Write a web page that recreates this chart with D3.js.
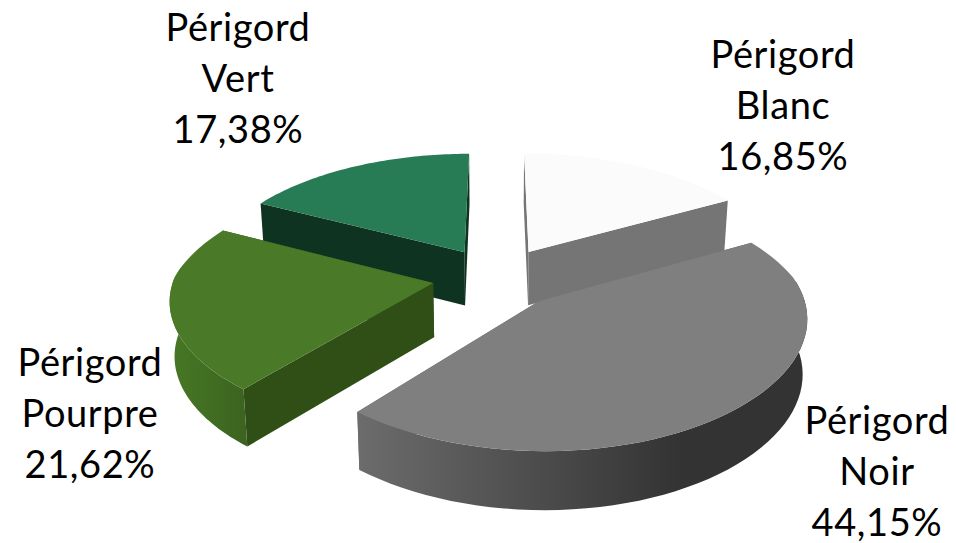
<!DOCTYPE html>
<html><head><meta charset="utf-8">
<script src="https://cdn.jsdelivr.net/npm/d3@7"></script>
<style>html,body{margin:0;background:#fff}svg{display:block}text{font-family:Lato,"Open Sans",sans-serif;fill:#000}</style>
</head><body><svg id="c" width="956" height="543"></svg>
<script>
const categories = ["Périgord Blanc","Périgord Noir","Périgord Pourpre","Périgord Vert"];
const shares = [16.85,44.15,21.62,17.38];
const shareLabels = ["16,85%","44,15%","21,62%","17,38%"];

// layout & style
const W=956,H=543, explode=.25, kxBack=.17, kxFront=.12, ky=.15, depth=54, converge=.985;
const tops=["#fbfbfb","#7f7f7f","#4a7a28","#277c55"];
const faces=["#757575","#6b6b6b","#2f4f17","#0f3321"];
const rims=[["#757575","#757575"],["#6c6c6c","#333333","#333333"],["#477824","#3c6420"],["#0f3321","#0f3321"]];
const labelPos=[[783,68],[877,434],[90,376],[238,41]];
const lineGap=51, fontSize=38;
const frontFrom=Math.PI*.45, frontTo=Math.PI*1.55;

const svg=d3.select("#c");
const sx=d3.scaleLinear().domain([-1,1]).range([497-259,497+259]);
const sy=d3.scaleLinear().domain([-1,1]).range([277+120,277-120]);
const proj=(x,z,down=0)=>{
  const wx=1+(z>0?kxBack:kxFront)*z, wy=1+ky*z;
  const X=sx(x/wx), Y=sy(z/wy);
  return down? [sx(0)+(X-sx(0))*converge, Y+depth*Math.pow(wy,-.45)] : [X,Y];
};
const arcs=d3.pie().sort(null).startAngle(0).endAngle(2*Math.PI)(shares);
const line=d3.line();
const defs=svg.append("defs");
const order=[3,0,2,1];
order.forEach(i=>{
  const a=arcs[i], mid=(a.startAngle+a.endAngle)/2;
  const ox=explode*Math.sin(mid), oz=explode*Math.cos(mid);
  const at=t=>[ox+Math.sin(t), oz+Math.cos(t)];
  const ts=d3.range(0,61).map(j=>a.startAngle+(a.endAngle-a.startAngle)*j/60);
  const topArc=ts.map(t=>proj(...at(t)));
  const apex=proj(ox,oz), apexB=proj(ox,oz,1);
  const g=svg.append("g").attr("class","slice").datum(categories[i]);
  // cut faces
  [a.startAngle,a.endAngle].forEach(t=>{
    const e=proj(...at(t)), eB=proj(...at(t),1);
    g.append("path").attr("d",line([apex,e,eB,apexB])+"Z").attr("fill",faces[i]);
  });
  // rim: only the part of the arc that faces the viewer
  const fts=ts.filter(t=>t>frontFrom&&t<frontTo);
  if(fts.length){
    const ft=[Math.max(a.startAngle,frontFrom),...fts,Math.min(a.endAngle,frontTo)];
    const rT=ft.map(t=>proj(...at(t))), rB=ft.map(t=>proj(...at(t),1));
    const ex=d3.extent(rT,d=>d[0]);
    const gid="rim"+i;
    defs.append("linearGradient").attr("id",gid).attr("gradientUnits","userSpaceOnUse")
      .attr("x1",ex[0]).attr("x2",ex[1]).attr("y1",0).attr("y2",0)
      .selectAll("stop").data(rims[i]).join("stop")
      .attr("offset",(d,j,n)=>j===n.length-1?1:(n.length===3&&j===1?.72:0)).attr("stop-color",d=>d);
    g.append("path").attr("d",line(rT.concat(rB.slice().reverse()))+"Z").attr("fill",`url(#${gid})`);
  }
  // top
  g.append("path").attr("d",line([apex,...topArc])+"Z").attr("fill",tops[i]);
});
categories.forEach((c,i)=>{
  const t=svg.append("text").attr("text-anchor","middle").attr("font-size",fontSize).attr("letter-spacing",.6);
  const [x,y]=labelPos[i];
  c.split(" ").concat(shareLabels[i]).forEach((s,j)=>{
    t.append("tspan").attr("x",x).attr("y",y+j*lineGap).text(s);
  });
});
</script></body></html>
